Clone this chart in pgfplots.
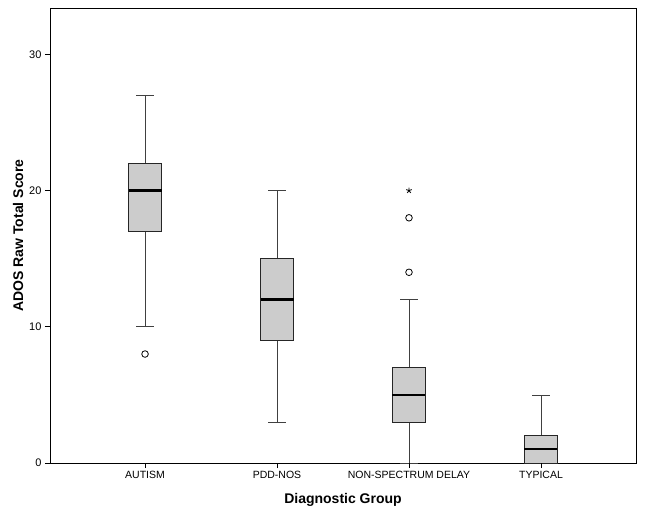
\documentclass[border=0pt]{standalone}
\usepackage{pgfplots}
\pgfplotsset{compat=1.18}
\usepgfplotslibrary{statistics}
\usepackage{fontspec}
\setmainfont{Liberation Sans}
\definecolor{boxgray}{RGB}{204,204,204}
\begin{document}
\begin{tikzpicture}
\useasboundingbox (-50pt,-54pt) rectangle (595pt,463pt);
\begin{axis}[
  at={(0pt,0pt)}, anchor=south west,
  scale only axis, width=586pt, height=455pt,
  xmin=0.28, xmax=4.72, ymin=0, ymax=33.4,
  xtick={1,2,3,4},
  xticklabels={AUTISM,PDD-NOS,NON-SPECTRUM DELAY,TYPICAL},
  ytick={0,10,20,30},
  tick align=outside, tick pos=left,
  major tick length=5pt,
  axis line style={line width=0.8pt},
  tick style={draw=black, line width=0.9pt},
  xticklabel style={font=\fontsize{10.5}{12}\selectfont},
  yticklabel style={font=\fontsize{11}{12}\selectfont},
  /pgf/number format/assume math mode=true,
  xlabel={Diagnostic Group},
  ylabel={ADOS Raw Total Score},
  label style={font=\bfseries\fontsize{14}{16}\selectfont},
  xlabel style={at={(rel axis cs:0.5,0)}, anchor=center, yshift=-37pt},
  ylabel style={at={(rel axis cs:0,0.5)}, anchor=center, yshift=32pt},
  clip=false,
  boxplot/draw direction=y,
  boxplot/box extend=0.25,
  boxplot/whisker extend=0.13,
  boxplot/every box/.style={draw=black!85, fill=boxgray, line width=0.7pt},
  boxplot/every whisker/.style={draw=black!75, line width=0.7pt},
  boxplot/every median/.style={draw=black, line width=2.2pt},
]
\addplot[boxplot prepared={draw position=1, lower whisker=10, lower quartile=17, median=20, upper quartile=22, upper whisker=27}, draw=black!80] coordinates {};
\addplot[boxplot prepared={draw position=2, lower whisker=3, lower quartile=9, median=12, upper quartile=15, upper whisker=20}, draw=black!80] coordinates {};
\addplot[boxplot prepared={draw position=3, lower whisker=0, lower quartile=3, median=5, upper quartile=7, upper whisker=12}, draw=black!80] coordinates {};
\addplot[boxplot prepared={draw position=4, lower whisker=0, lower quartile=0, median=1, upper quartile=2, upper whisker=5}, draw=black!80] coordinates {};
\addplot[only marks, mark=o, mark size=3.3pt, black, mark options={line width=0.8pt}] coordinates {(1,8) (3,14) (3,18)};
\addplot[only marks, mark=star, mark size=3pt, black, mark options={line width=0.8pt}] coordinates {(3,20)};
\pgfplotsinvokeforeach{0,10,20,30}{\draw[black, line width=0.9pt] (axis cs:0.28,#1) -- ++(-5pt,0pt);}
\pgfplotsinvokeforeach{1,2,3,4}{\draw[black, line width=0.9pt] (axis cs:#1,0) -- ++(0pt,-5pt);}
\end{axis}
\end{tikzpicture}
\end{document}
